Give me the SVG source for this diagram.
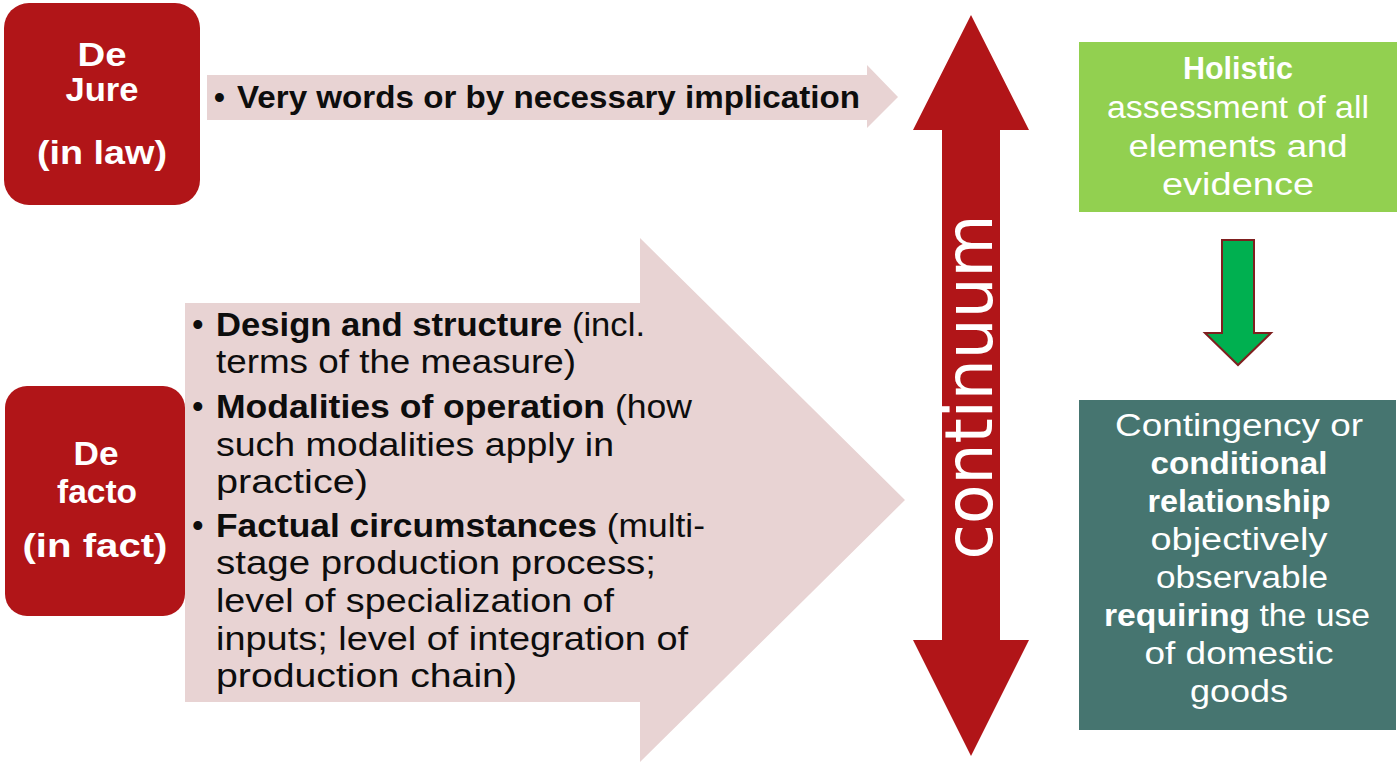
<svg xmlns="http://www.w3.org/2000/svg" width="1400" height="771" viewBox="0 0 1400 771">
<style>
.red{fill:#B11518}
.pink{fill:#E8D3D3}
.w{fill:#FFFFFF}
.k{fill:#0D0D0D}
.t{font-family:"Liberation Sans","DejaVu Sans",sans-serif;font-size:31px}
.b{font-weight:bold}
.c{text-anchor:middle}
.big{font-size:33px}
.box{font-size:33px}
</style>
<rect width="1400" height="771" fill="#FFFFFF"/>
<g id="connectors">
  <polygon id="arrow-dejure" class="pink" points="207,75 867,75 867,65 898,97 867,128 867,120 207,120"/>
  <polygon id="arrow-defacto" class="pink" points="185,303 640,303 640,238 905,500 640,762 640,702 185,702"/>
  <polygon id="arrow-continuum" class="red" points="971,15 1029,130 1000,130 1000,640 1029,640 971,756 913,640 942,640 942,130 913,130"/>
  <polygon id="arrow-green" fill="#00B050" stroke="#7F1F1F" stroke-width="2" points="1222,240 1254,240 1254,333 1271,333 1238,365 1205,333 1222,333"/>
</g>
<g id="label-dejure-arrow">
  <text class="t b k" x="214" y="108" font-size="32">•</text>
  <text class="t b k" x="237" y="108" font-size="32" textLength="623" lengthAdjust="spacingAndGlyphs">Very words or by necessary implication</text>
</g>
<g id="label-defacto-arrow" class="t big k">
  <text x="192" y="336">•</text>
  <text x="216" y="336" textLength="429" lengthAdjust="spacingAndGlyphs"><tspan class="b">Design and structure</tspan> (incl.</text>
  <text x="216" y="373" textLength="360" lengthAdjust="spacingAndGlyphs">terms of the measure)</text>
  <text x="192" y="418">•</text>
  <text x="216" y="418" textLength="476" lengthAdjust="spacingAndGlyphs"><tspan class="b">Modalities of operation</tspan> (how</text>
  <text x="216" y="456" textLength="398" lengthAdjust="spacingAndGlyphs">such modalities apply in</text>
  <text x="216" y="493" textLength="152" lengthAdjust="spacingAndGlyphs">practice)</text>
  <text x="192" y="537">•</text>
  <text x="216" y="537" textLength="489" lengthAdjust="spacingAndGlyphs"><tspan class="b">Factual circumstances</tspan> (multi-</text>
  <text x="216" y="574" textLength="440" lengthAdjust="spacingAndGlyphs">stage production process;</text>
  <text x="216" y="612" textLength="398" lengthAdjust="spacingAndGlyphs">level of specialization of</text>
  <text x="216" y="650" textLength="472" lengthAdjust="spacingAndGlyphs">inputs; level of integration of</text>
  <text x="216" y="687" textLength="301" lengthAdjust="spacingAndGlyphs">production chain)</text>
</g>
<g id="label-continuum">
  <text class="w c" transform="translate(992,387) rotate(-90)" x="0" y="0" font-family="'DejaVu Sans','Liberation Sans',sans-serif" font-size="66" textLength="345" lengthAdjust="spacingAndGlyphs">continuum</text>
</g>
<g id="node-dejure">
  <rect class="red" x="4" y="3" width="196" height="202" rx="25"/>
  <text class="t box b w c" x="102" y="66" textLength="49" lengthAdjust="spacingAndGlyphs">De</text>
  <text class="t box b w c" x="102" y="101" textLength="73" lengthAdjust="spacingAndGlyphs">Jure</text>
  <text class="t box b w c" x="102" y="164" textLength="130" lengthAdjust="spacingAndGlyphs">(in law)</text>
</g>
<g id="node-defacto">
  <rect class="red" x="5" y="386" width="180" height="230" rx="22"/>
  <text class="t box b w c" x="96" y="465" textLength="45" lengthAdjust="spacingAndGlyphs">De</text>
  <text class="t box b w c" x="97" y="503" textLength="80" lengthAdjust="spacingAndGlyphs">facto</text>
  <text class="t box b w c" x="95" y="557" textLength="145" lengthAdjust="spacingAndGlyphs">(in fact)</text>
</g>
<g id="node-holistic">
  <rect fill="#92D050" x="1079" y="42" width="318" height="170"/>
  <text class="t b w c" x="1238" y="79" textLength="110" lengthAdjust="spacingAndGlyphs">Holistic</text>
  <text class="t w c" x="1238" y="118" textLength="262" lengthAdjust="spacingAndGlyphs">assessment of all</text>
  <text class="t w c" x="1238" y="157" textLength="219" lengthAdjust="spacingAndGlyphs">elements and</text>
  <text class="t w c" x="1238" y="195" textLength="152" lengthAdjust="spacingAndGlyphs">evidence</text>
</g>
<g id="node-contingency">
  <rect fill="#467570" x="1079" y="400" width="317" height="330"/>
  <text class="t w c" x="1239" y="436" textLength="248" lengthAdjust="spacingAndGlyphs">Contingency or</text>
  <text class="t b w c" x="1239" y="474" textLength="177" lengthAdjust="spacingAndGlyphs">conditional</text>
  <text class="t b w c" x="1239" y="512" textLength="183" lengthAdjust="spacingAndGlyphs">relationship</text>
  <text class="t w c" x="1239" y="550" textLength="177" lengthAdjust="spacingAndGlyphs">objectively</text>
  <text class="t w c" x="1242" y="588" textLength="172" lengthAdjust="spacingAndGlyphs">observable</text>
  <text class="t w c" x="1237" y="626" textLength="266" lengthAdjust="spacingAndGlyphs"><tspan class="b">requiring</tspan> the use</text>
  <text class="t w c" x="1239" y="664" textLength="189" lengthAdjust="spacingAndGlyphs">of domestic</text>
  <text class="t w c" x="1239" y="702" textLength="98" lengthAdjust="spacingAndGlyphs">goods</text>
</g>
</svg>
